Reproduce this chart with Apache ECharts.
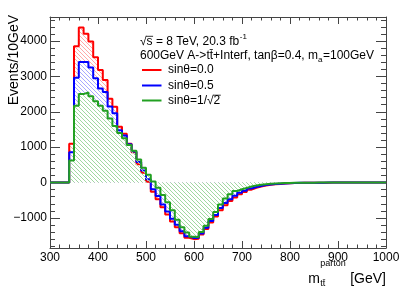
<!DOCTYPE html>
<html><head><meta charset="utf-8">
<script src="https://cdn.jsdelivr.net/npm/echarts@6/dist/echarts.min.js"></script>
<style>html,body{margin:0;padding:0;background:#fff}#c{width:402px;height:287px}</style>
</head><body><div id="c"></div>
<script>
// bin lower edges (GeV), 10 GeV bins
const binLow = [300,310,320,330,340,350,360,370,380,390,400,410,420,430,440,450,460,470,480,490,
  500,510,520,530,540,550,560,570,580,590,600,610,620,630,640,650,660,670,680,690,
  700,710,720,730,740,750,760,770,780,790,800,810,820,830,840,850,860,870,880,890,
  900,910,920,930,940,950,960,970,980,990];
const xEnd = 1000;
// sinθ=0.0
const red = [0,0,0,0,1100,3850,4380,4210,3990,3540,3180,2900,2370,2140,1580,1380,1100,860,520,280,
  20,-260,-470,-700,-900,-1100,-1260,-1430,-1560,-1600,-1590,-1470,-1310,-1130,-960,-780,-640,-520,-420,-330,
  -270,-200,-150,-115,-85,-65,-50,-38,-28,-20,-15,-11,-8,-6,-4,-3,-2,-2,-1,-1,
  -1,0,0,0,0,0,0,0,0,0];
// sinθ=0.5
const blue = [0,0,0,0,860,2960,3410,3410,3250,2950,2660,2560,2150,1960,1480,1330,1080,880,580,340,
  90,-190,-380,-620,-820,-1020,-1190,-1380,-1520,-1570,-1560,-1440,-1280,-1090,-920,-720,-580,-470,-370,-290,
  -230,-170,-125,-95,-70,-55,-42,-32,-24,-17,-13,-9,-7,-5,-3,-2,-2,-1,-1,-1,
  -1,0,0,0,0,0,0,0,0,0];
// sinθ=1/√2
const green = [0,0,0,0,620,2170,2500,2550,2440,2300,2170,2030,1810,1600,1400,1250,1060,900,650,420,
  220,30,-150,-350,-560,-780,-1050,-1260,-1410,-1530,-1540,-1400,-1220,-1030,-830,-620,-450,-330,-240,-190,
  -150,-110,-80,-60,-45,-35,-26,-19,-14,-10,-7,-5,-4,-3,-2,-1,-1,-1,0,0,
  0,0,0,0,0,0,0,0,0,0];
const yMajor = [-1000,0,1000,2000,3000,4000];
const yMinor = [-1800,-1600,-1400,-1200,-800,-600,-400,-200,200,400,600,800,1200,1400,1600,1800,
  2200,2400,2600,2800,3200,3400,3600,3800,4200,4400,4600];
const seriesNames = ['sin\u03b8=0.0','sin\u03b8=0.5','sin\u03b8=1/\u221a2'];

const YMIN = -1850, YMAX = 4680;
const FONT = '"Liberation Sans", Arial, Helvetica, sans-serif';
const cRed = '#ff0000', cBlue = '#0000ff', cGreen = '#22a022';

function steps(vals){
  const d = binLow.map((x,i)=>[x, vals[i]]);
  d.push([xEnd, vals[vals.length-1]]);
  return d;
}
function hatch(color){
  const s=4, c=document.createElement('canvas'); c.width=s; c.height=s;
  const g=c.getContext('2d'); g.fillStyle=color;
  for (let i=0;i<s;i++) g.fillRect(i,i,1,1);
  return {image:c, repeat:'repeat'};
}
const mctx = document.createElement('canvas').getContext('2d');
function tw(t,size){ mctx.font = size+'px '+FONT; return mctx.measureText(t).width; }
function T(t,x,y,size,extra){
  return Object.assign({type:'text', x:x, y:y, z:100, silent:true,
    style:{text:t, font:size+'px '+FONT, fill:'#000', align:'left', verticalAlign:'middle',
      textAlign:'left', textVerticalAlign:'middle'}}, extra||{});
}
function L(x1,y1,x2,y2,color,w){
  return {type:'line', z:100, silent:true, shape:{x1:x1,y1:y1,x2:x2,y2:y2}, style:{stroke:color, lineWidth:w}};
}

const g = [];
// line 1
let x0 = 140, y1 = 41.5;
let s1 = '\u221as = 8 TeV, 20.3 fb';
g.push(T(s1, x0, y1, 12));
g.push(L(x0+tw('\u221a',12)-0.5, 36.3, x0+tw('\u221as',12)+0.5, 36.3, '#000', 0.8));
g.push(T('-1', x0+tw(s1,12)+0.5, y1-5, 8));
// line 2
let y2 = 56;
let s2 = '600GeV A->tt\u0304+Interf, tan\u03b2=0.4, m';
g.push(T(s2, x0, y2, 12));
let xa = x0+tw(s2,12);
g.push(T('a', xa, y2+4, 8));
g.push(T('=100GeV', xa+tw('a',8)+0.5, y2, 12));
// legend
const legY = [70, 85.5, 100.5], legC = [cRed, cBlue, cGreen];
for (let i=0;i<3;i++){
  g.push(L(142, legY[i], 161.5, legY[i], legC[i], 2));
  g.push(T(seriesNames[i], 168, legY[i], 12));
}
g.push(L(168+tw('sin\u03b8=1/\u221a',12)-0.5, legY[2]-5.3, 168+tw(seriesNames[2],12)+0.5, legY[2]-5.3, '#000', 0.8));
// y title
g.push(T('Events/10GeV', 14, 15, 14, {rotation: Math.PI/2, style:{text:'Events/10GeV', font:'14px '+FONT, fill:'#000',
  align:'right', verticalAlign:'middle', textAlign:'right', textVerticalAlign:'middle'}}));
// x title
const wm = tw('m',14), wsub = tw('tt\u0304',9), wsup = tw('parton',9), wg = tw(' [GeV]',14);
let xs = 386 - (wm + Math.max(wsub,wsup) + 1 + wg);
g.push(T('m', xs, 279, 14));
g.push(T('tt\u0304', xs+wm+0.5, 284, 9));
g.push(T('parton', xs+wm+0.5, 264, 9));
g.push(T(' [GeV]', xs+wm+Math.max(wsub,wsup)+1, 279, 14));

const axLine = {show:true, onZero:false, lineStyle:{color:'#444', width:1}};
const lbl = {color:'#000', fontSize:12, fontFamily:FONT};
function xAx(pos, show){
  return {type:'value', min:300, max:1000, interval:100, position:pos,
    axisLine:axLine, splitLine:{show:false},
    axisTick:{show:true, inside:true, length:7, lineStyle:{color:'#444'}},
    minorTick:{show:true, splitNumber:5, length:3.5, lineStyle:{color:'#444'}},
    axisLabel:Object.assign({show:show, margin:4, formatter:v=>String(v)}, lbl)};
}
function yAx(pos, vals, len, showLabel, line){
  return {type:'value', min:YMIN, max:YMAX, position:pos,
    axisLine: line ? axLine : {show:false, onZero:false}, splitLine:{show:false},
    axisTick:{show:true, inside:true, length:len, customValues:vals, lineStyle:{color:'#444'}},
    axisLabel:Object.assign({show:showLabel, margin:3, customValues:vals,
      formatter:v=>String(v).replace('-','\u2212')}, lbl)};
}

const chart = echarts.init(document.getElementById('c'), null, {renderer:'canvas'});
chart.setOption({
  animation:false,
  backgroundColor:'#fff',
  grid:{left:50, right:16, top:17, bottom:39, containLabel:false, outerBoundsMode:'none'},
  xAxis:[xAx('bottom', true), xAx('top', false)],
  yAxis:[yAx('left', yMajor, 10, true, true), yAx('left', yMinor, 5, false, false),
         yAx('right', yMajor, 10, false, true), yAx('right', yMinor, 5, false, false)],
  series:[
    {name:seriesNames[0], type:'line', step:'end', symbol:'none', data:steps(red), z:2,
      lineStyle:{color:cRed, width:2}, itemStyle:{color:cRed},
      areaStyle:{origin:0, opacity:1, color:hatch('#ffa8a8')}},
    {name:seriesNames[1], type:'line', step:'end', symbol:'none', data:steps(blue), z:3,
      lineStyle:{color:cBlue, width:2}, itemStyle:{color:cBlue},
      areaStyle:{origin:0, opacity:1, color:hatch('#a8a8ff')}},
    {name:seriesNames[2], type:'line', step:'end', symbol:'none', data:steps(green), z:4,
      lineStyle:{color:cGreen, width:2}, itemStyle:{color:cGreen},
      areaStyle:{origin:0, opacity:1, color:hatch('#a0d8a0')}}
  ],
  graphic:g
});
</script></body></html>
